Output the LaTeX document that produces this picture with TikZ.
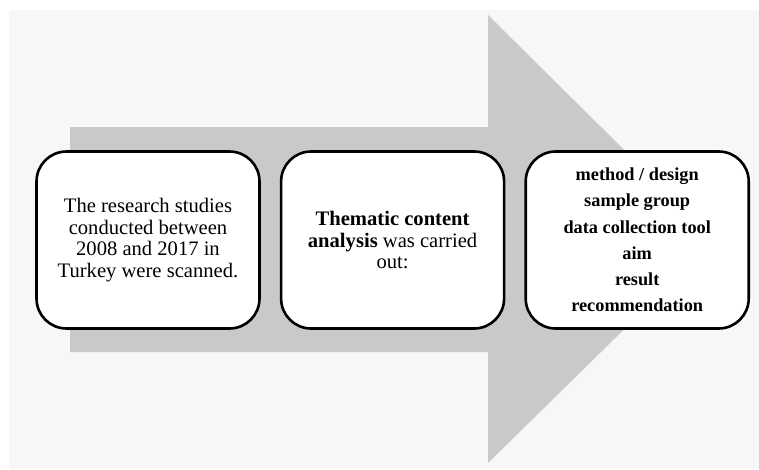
\documentclass[tikz,border=0pt]{standalone}
\usepackage{fontspec}
\setmainfont{Liberation Serif}
\usetikzlibrary{positioning}
\definecolor{bgpanel}{HTML}{F7F7F7}
\definecolor{arrowgray}{HTML}{C9C9C9}

\begin{document}
\begin{tikzpicture}[
    x=1pt, y=-1pt,
    node distance=19pt,
    box/.style={rectangle, draw, fill=white, rounded corners=30pt, line width=2.6pt,
        minimum width=223pt, minimum height=177pt, align=center, inner sep=0pt},
    boxtext/.style={font=\fontsize{20.6}{21.8}\selectfont},
    listtext/.style={font=\fontsize{18.3}{26.2}\selectfont\bfseries}
]
    \useasboundingbox (0,0) rectangle (759,469);
    \fill[bgpanel] (9,10) rectangle (759,469);

    % big arrow behind the boxes
    \fill[arrowgray] (70,127) -- (488,127) -- (488,15) -- (715,240)
        -- (488,463) -- (488,352) -- (70,352) -- cycle;

    \node[box, boxtext] (scan) at (148,240) {The research studies\\conducted between\\2008 and 2017 in\\Turkey were scanned.};
    \node[box, boxtext, right=of scan] (analysis) {\textbf{Thematic content}\\\textbf{analysis} was carried\\out:};
    \node[box, listtext, right=of analysis] (themes) {method / design\\sample group\\data collection tool\\aim\\result\\recommendation};
\end{tikzpicture}
\end{document}
